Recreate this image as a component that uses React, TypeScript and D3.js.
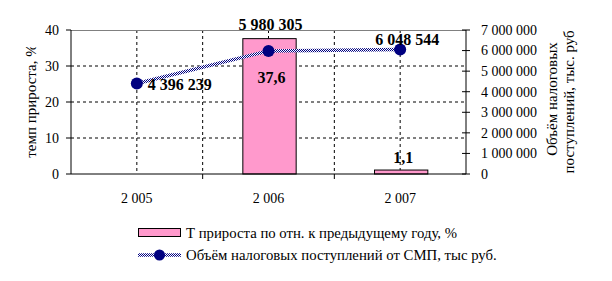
import React from "react";
import * as d3 from "d3";

const years = ["2 005", "2 006", "2 007"];
const growth: (number | null)[] = [null, 37.6, 1.1];
const growthLabels = ["", "37,6", "1,1"];
const revenue = [4396239, 5980305, 6048544];
const revenueLabels = ["4 396 239", "5 980 305", "6 048 544"];
const leftTicks = [0, 10, 20, 30, 40];
const rightTicks = [0, 1000000, 2000000, 3000000, 4000000, 5000000, 6000000, 7000000];
const legendLabels = [
  "Т прироста по отн. к предыдущему году, %",
  "Объём налоговых поступлений от СМП, тыс руб.",
];

const FF = "Liberation Serif";
const fmt = (v: number) => (v === 0 ? "0" : d3.format(",")(v).replace(/,/g, " "));

export default function App() {
  const L = 71, R = 466, T = 30, B = 174;
  const x = d3.scaleBand<string>().domain(years).range([L, R]).paddingInner(0).paddingOuter(0);
  const yL = d3.scaleLinear().domain([0, 40]).range([B, T]);
  const yR = d3.scaleLinear().domain([0, 7000000]).range([B, T]);
  const bw = x.bandwidth();
  const barW = bw * 0.405;
  const cx = (d: string) => (x(d) as number) + bw / 2;
  const line = d3
    .line<number>()
    .x((_, i) => cx(years[i]))
    .y((v) => yR(v));
  const boundaries = years.slice(1).map((d) => x(d) as number);

  return (
    <svg width={612} height={281} style={{ position: "absolute", left: 0, top: 0 }}>
      <defs>
        <pattern id="hatch" width="2" height="2" patternUnits="userSpaceOnUse">
          <rect width="2" height="2" fill="#ffffff" />
          <rect width="1" height="1" fill="#000080" />
          <rect x="1" y="1" width="1" height="1" fill="#000080" />
        </pattern>
        <clipPath id="clipL">
          <rect x={0} y={47} width={60} height={200} />
        </clipPath>
        <clipPath id="clipR">
          <rect x={530} y={31} width={82} height={200} />
        </clipPath>
      </defs>
      <rect width={612} height={281} fill="#fff" />
      {/* grid */}
      {leftTicks.slice(1, -1).map((t) => (
        <line key={"h" + t} x1={L} x2={R} y1={yL(t)} y2={yL(t)} stroke="#000" strokeDasharray="3,3" />
      ))}
      {years.map((d) => (
        <line key={"vc" + d} x1={cx(d)} x2={cx(d)} y1={T} y2={B} stroke="#000" strokeDasharray="3,3" />
      ))}
      {boundaries.map((b, i) => (
        <line key={"vb" + i} x1={b} x2={b} y1={T} y2={B} stroke="#000" strokeDasharray="3,3" />
      ))}
      <line x1={L} x2={R} y1={T + 0.5} y2={T + 0.5} stroke="#808080" />
      {/* bars */}
      {years.map((d, i) =>
        growth[i] == null ? null : (
          <rect
            key={"b" + d}
            x={cx(d) - barW / 2 + 1}
            y={yL(growth[i] as number)}
            width={barW}
            height={B - yL(growth[i] as number)}
            fill="#ff99cc"
            stroke="#000"
          />
        )
      )}
      {/* axes */}
      <line x1={L} x2={L} y1={T} y2={B} stroke="#000" />
      <line x1={R} x2={R} y1={T} y2={B} stroke="#000" />
      <line x1={L} x2={R} y1={B} y2={B} stroke="#000" />
      {leftTicks.map((t) => (
        <g key={"lt" + t}>
          <line x1={L - 5} x2={L} y1={yL(t)} y2={yL(t)} stroke="#000" />
          <text x={L - 12} y={yL(t)} dy="0.35em" textAnchor="end" fontFamily={FF} fontSize={14} fill="#000">
            {t}
          </text>
        </g>
      ))}
      {rightTicks.map((t) => (
        <g key={"rt" + t}>
          <line x1={R - 4} x2={R + 4} y1={yR(t)} y2={yR(t)} stroke="#000" />
          <text x={R + 15} y={yR(t)} dy="0.35em" textAnchor="start" fontFamily={FF} fontSize={14} fill="#000">
            {fmt(t)}
          </text>
        </g>
      ))}
      {boundaries.map((b, i) => (
        <line key={"xt" + i} x1={b} x2={b} y1={B} y2={B + 5} stroke="#000" />
      ))}
      {years.map((d) => (
        <text key={"xl" + d} x={cx(d)} y={203} textAnchor="middle" fontFamily={FF} fontSize={14} fill="#000">
          {d}
        </text>
      ))}
      {/* axis titles */}
      <g clipPath="url(#clipL)">
        <text transform={`translate(36,101) rotate(-90)`} textAnchor="middle" fontFamily={FF} fontSize={15} fill="#000">
          темп прироста, %
        </text>
      </g>
      <g clipPath="url(#clipR)">
        <text transform={`translate(557,99) rotate(-90)`} textAnchor="middle" fontFamily={FF} fontSize={15} fill="#000">
          Объём налоговых
        </text>
        <text transform={`translate(573.5,100) rotate(-90)`} textAnchor="middle" fontFamily={FF} fontSize={15} fill="#000">
          поступлений, тыс. руб.
        </text>
      </g>
      {/* line */}
      <path d={line(revenue) || ""} fill="none" stroke="url(#hatch)" strokeWidth={3.5} />
      {years.map((d, i) => (
        <circle key={"m" + d} cx={cx(d)} cy={yR(revenue[i])} r={6} fill="#000080" />
      ))}
      {/* labels */}
      {years.map((d, i) =>
        growth[i] == null ? null : (
          <text
            key={"gl" + d}
            x={cx(d) + 3}
            y={i === 1 ? yL(growth[i] as number) + 44 : yL(growth[i] as number) - 7}
            textAnchor="middle"
            fontFamily={FF}
            fontSize={16}
            fontWeight="bold"
            fill="#000"
          >
            {growthLabels[i]}
          </text>
        )
      )}
      <text x={cx(years[0]) + 11} y={yR(revenue[0]) + 6.5} fontFamily={FF} fontSize={16} fontWeight="bold" fill="#000">
        {revenueLabels[0]}
      </text>
      <text x={cx(years[1]) + 2} y={30} textAnchor="middle" fontFamily={FF} fontSize={16} fontWeight="bold" fill="#000">
        {revenueLabels[1]}
      </text>
      <text x={cx(years[2]) + 7} y={yR(revenue[2]) - 4.5} textAnchor="middle" fontFamily={FF} fontSize={16} fontWeight="bold" fill="#000">
        {revenueLabels[2]}
      </text>
      {/* legend */}
      <rect x={138.5} y={228.5} width={42} height={8} fill="#ff99cc" stroke="#000" />
      <text x={186} y={238} fontFamily={FF} fontSize={14.75} fill="#000">
        {legendLabels[0]}
      </text>
      <line x1={138} x2={181} y1={255} y2={255} stroke="url(#hatch)" strokeWidth={3.5} />
      <circle cx={159.5} cy={255} r={5.5} fill="#000080" />
      <text x={186} y={260} fontFamily={FF} fontSize={14.75} fill="#000">
        {legendLabels[1]}
      </text>
    </svg>
  );
}
